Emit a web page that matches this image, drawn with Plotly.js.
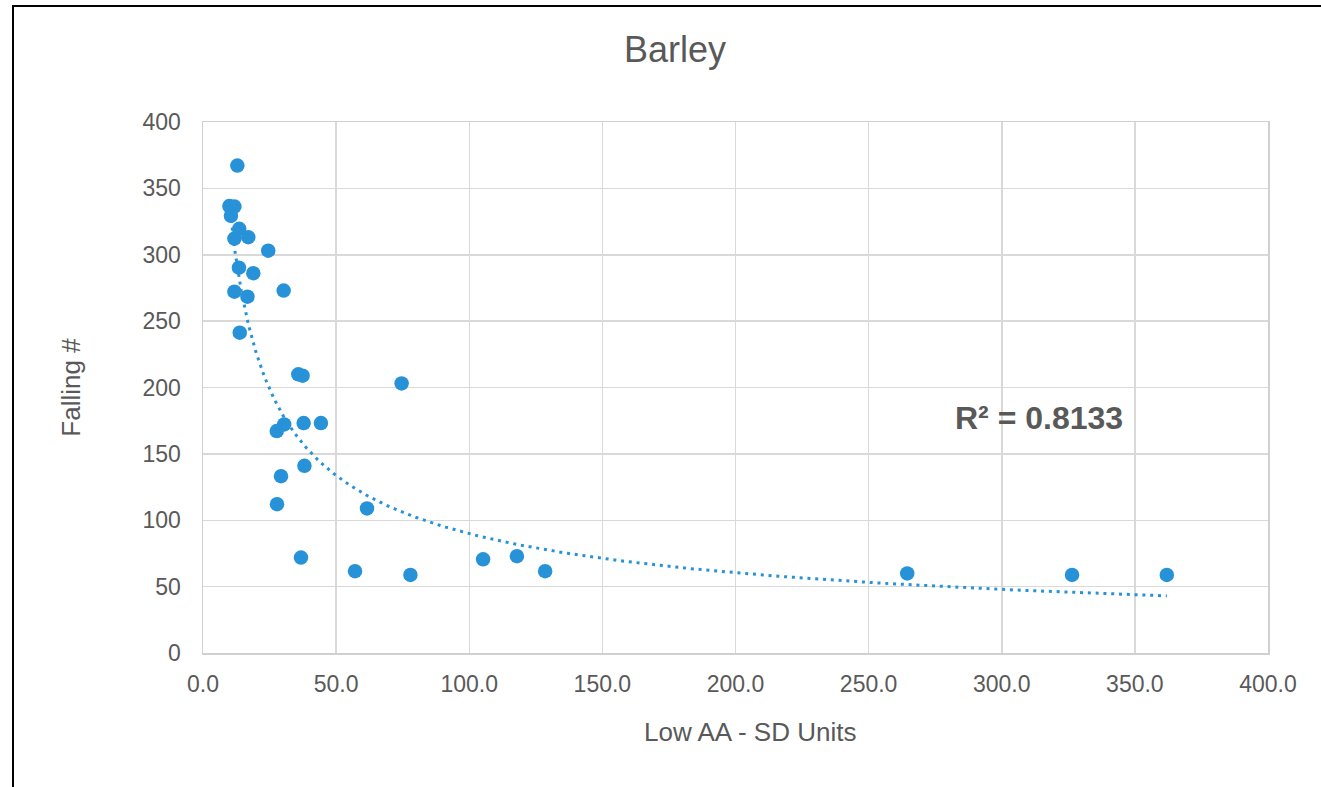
<!DOCTYPE html>
<html>
<head>
<meta charset="utf-8">
<script src="https://cdn.plot.ly/plotly-3.0.1.min.js"></script>
<style>
  html, body { margin: 0; padding: 0; background: #ffffff; overflow: hidden; }
  #frame { position: absolute; left: 12px; top: 5px; width: 1400px; height: 900px; border: 2px solid #000; box-sizing: border-box; pointer-events: none; z-index: 2; }
  #chart { position: absolute; left: 0; top: 0; width: 1321px; height: 787px; z-index: 1; }
</style>
</head>
<body>
<div id="chart"></div>
<div id="frame"></div>
<script>
// Data
const lowAA = [12.9, 9.9, 11.8, 10.5, 13.6, 17.0, 11.8, 24.5, 13.5, 18.9, 30.3, 11.8, 16.7, 13.8,
               35.8, 37.4, 74.6, 30.5, 27.7, 37.8, 44.3, 38.1, 29.3, 27.8, 61.6, 36.8, 57.1, 77.9,
               105.2, 117.9, 128.5, 264.5, 326.4, 362.0];
const fallingNum = [367.2, 336.7, 336.3, 329.3, 319.5, 313.2, 312.2, 303.1, 290.3, 286.1, 273.0, 272.2, 268.4, 241.3,
                    209.9, 208.9, 203.1, 172.2, 167.2, 173.2, 173.2, 141.0, 133.2, 112.1, 108.9, 71.9, 61.6, 58.8,
                    70.6, 72.9, 61.6, 59.9, 58.8, 58.8];
const xTickVals = [0, 50, 100, 150, 200, 250, 300, 350, 400];
const yTickVals = [0, 50, 100, 150, 200, 250, 300, 350, 400];
const chartTitle = "Barley";
const xTitle = "Low AA - SD Units";
const yTitle = "Falling #";
const r2Label = "R² = 0.8133";

// Power trendline (least squares on log-log), as Excel does
const lx = lowAA.map(Math.log), ly = fallingNum.map(Math.log);
const n = lx.length;
const mx = lx.reduce((a, b) => a + b, 0) / n, my = ly.reduce((a, b) => a + b, 0) / n;
let sxy = 0, sxx = 0;
for (let i = 0; i < n; i++) { sxy += (lx[i] - mx) * (ly[i] - my); sxx += (lx[i] - mx) ** 2; }
const b = sxy / sxx, lnA = my - b * mx;
const xmin = Math.min(...lowAA), xmax = Math.max(...lowAA);
const tx = [], ty = [];
for (let i = 0; i <= 300; i++) {
  const x = xmin * Math.pow(xmax / xmin, i / 300);
  tx.push(x); ty.push(Math.exp(lnA) * Math.pow(x, b));
}

const blue = '#2892D9';
const grey = '#595959';
const font = 'Liberation Sans, Arial, sans-serif';

const traces = [
  { x: tx, y: ty, type: 'scatter', mode: 'lines', hoverinfo: 'skip',
    line: { color: blue, width: 3, dash: '3px,4.8px' }, showlegend: false },
  { x: lowAA, y: fallingNum, type: 'scatter', mode: 'markers',
    marker: { color: blue, size: 14.5, line: { width: 0 } }, showlegend: false }
];

const layout = {
  width: 1321, height: 787,
  paper_bgcolor: 'rgba(0,0,0,0)', plot_bgcolor: '#ffffff',
  margin: { l: 203, r: 53, t: 122, b: 134 },
  font: { family: font, color: grey },
  title: { text: chartTitle, font: { size: 36, color: grey, family: font },
           xref: 'container', yref: 'container', x: 0.511, y: 1 - 49 / 787, xanchor: 'center', yanchor: 'middle' },
  xaxis: {
    range: [0, 400], tickvals: xTickVals, tickformat: '.1f',
    showgrid: true, gridcolor: '#d9d9d9', gridwidth: 1.5,
    showline: true, linecolor: '#d0d0d0', linewidth: 1.5, mirror: true,
    zeroline: false, ticks: '', ticklabelstandoff: 10,
    tickfont: { size: 23, color: grey, family: font }
  },
  yaxis: {
    range: [0, 400], tickvals: yTickVals,
    showgrid: true, gridcolor: '#d9d9d9', gridwidth: 1.5,
    showline: true, linecolor: '#d0d0d0', linewidth: 1.5, mirror: true,
    zeroline: false, ticks: '', ticklabelstandoff: 16,
    tickfont: { size: 23, color: grey, family: font },
    title: { text: yTitle, font: { size: 26, color: grey, family: font }, standoff: 54 }
  },
  annotations: [
    { text: xTitle, xref: 'paper', yref: 'paper', x: (750 - 203) / 1065, y: -(732 - 653) / 531,
      showarrow: false, xanchor: 'center', yanchor: 'middle',
      font: { size: 26, color: grey, family: font } },
    { text: '<b>' + r2Label + '</b>', xref: 'x', yref: 'y', x: 314, y: 177,
      showarrow: false, xanchor: 'center', yanchor: 'middle',
      font: { size: 32, color: grey, family: font } }
  ]
};

Plotly.newPlot('chart', traces, layout, { displayModeBar: false, staticPlot: true });
</script>
</body>
</html>
